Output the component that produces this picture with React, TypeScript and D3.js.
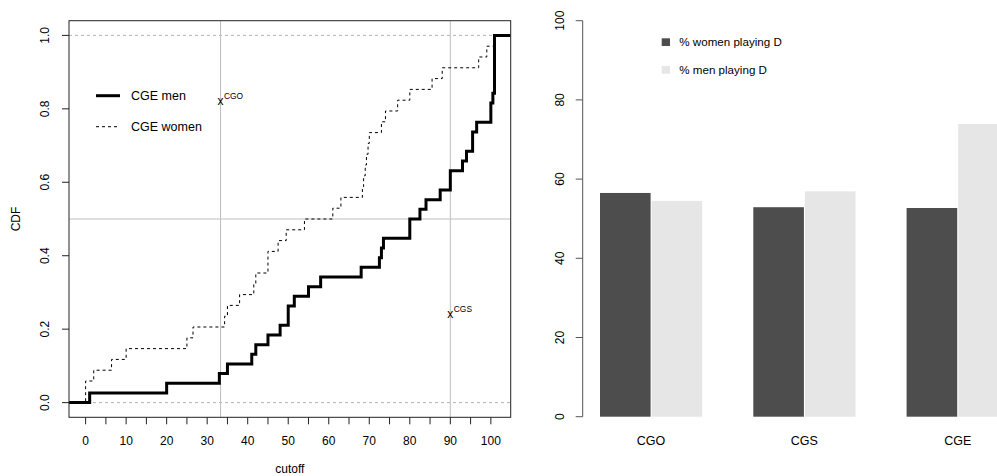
import React from "react";
import * as d3 from "d3";

// ---------- data ----------
// cutoff values (one entry per subject) for the empirical CDFs
const menCutoffs = [1, 20, 33, 35, 41, 42, 45, 48, 50, 50, 51.5, 55, 58, 68, 72.5, 73, 73.5, 80, 80, 82.5, 84, 87.5, 90, 90, 93, 94, 95.5, 95.5, 96.5, 100, 100, 100.5, 100.9, 100.9, 100.9, 100.9, 100.9, 100.9];
const womenCutoffs = [0, 0, 2, 6.4, 10, 25, 26.5, 34.3, 35, 38, 41.5, 42, 45, 45, 47.5, 49.5, 54, 61, 63, 68.3, 68.6, 69, 69.3, 69.7, 70, 73, 74, 77, 80, 85.5, 88, 97, 99, 100.9];
const cdfLegend = ["CGE men", "CGE women"];
const refVLines = [33.3, 90];
const refHLine = 0.5;
const markerLabels = ["CGO", "CGS"];
const markerX = [33.3, 90];
const markerY = [0.82, 0.24];
const xTicks = d3.range(0, 101, 5);
const xTickLabels = d3.range(0, 101, 10);
const yTicksL = [0, 0.2, 0.4, 0.6, 0.8, 1.0];

const barCategories = ["CGO", "CGS", "CGE"];
const womenPlayingD = [56.5, 52.9, 52.7];
const menPlayingD = [54.5, 56.9, 73.9];
const barSeries = ["% women playing D", "% men playing D"];
const yTicksR = [0, 20, 40, 60, 80, 100];

const FONT = "'Liberation Sans', Arial, Helvetica, sans-serif";

function ecdfPoints(vals: number[], xmin: number, xmax: number): [number, number][] {
  const sorted = [...vals].sort((a, b) => a - b);
  const n = sorted.length;
  const pts: [number, number][] = [[xmin, 0]];
  const uniq = Array.from(new Set(sorted));
  uniq.forEach((v) => {
    const cnt = sorted.filter((s) => s <= v).length;
    pts.push([v, cnt / n]);
  });
  pts.push([xmax, 1]);
  return pts;
}

export default function App() {
  // ---------- left panel ----------
  const L = { left: 69, right: 510.7, top: 20.7, bottom: 417.3 };
  const xL = d3.scaleLinear().domain([-4.1, 104.9]).range([L.left, L.right]);
  const yL = d3.scaleLinear().domain([-0.04, 1.04]).range([L.bottom, L.top]);
  const line = d3
    .line<[number, number]>()
    .x((d) => xL(d[0]))
    .y((d) => yL(d[1]))
    .curve(d3.curveStepAfter);
  const menPath = line(ecdfPoints(menCutoffs, -4.1, 104.9)) || "";
  const womenPath = line(ecdfPoints(womenCutoffs, -4.1, 104.9)) || "";

  // ---------- right panel ----------
  const unit = 51.1;
  const zeroU = 548.9;
  const xR = d3
    .scaleBand<string>()
    .domain(barCategories)
    .range([zeroU, zeroU + 10 * unit])
    .paddingInner(1 / 3)
    .paddingOuter(1 / 3);
  const xInner = d3.scaleBand<string>().domain(barSeries).range([0, xR.bandwidth()]);
  const yR = d3.scaleLinear().domain([0, 100]).range([416.7, 20.7]);
  const barColors = ["#4d4d4d", "#e6e6e6"];
  const axR = 582.7;

  return (
    <svg
      width={997}
      height={476}
      style={{ position: "absolute", left: 0, top: 0, background: "#fff" }}
      fontFamily={FONT}
    >
      <rect x={0} y={0} width={997} height={476} fill="#fff" />
      {/* ===== left panel ===== */}
      <defs>
        <clipPath id="clipL">
          <rect x={L.left} y={L.top} width={L.right - L.left} height={L.bottom - L.top} />
        </clipPath>
      </defs>
      <g clipPath="url(#clipL)">
        {[0, 1].map((v) => (
          <line key={"d" + v} x1={L.left} x2={L.right} y1={yL(v)} y2={yL(v)} stroke="#b3b3b3" strokeDasharray="3,3" />
        ))}
        {refVLines.map((v) => (
          <line key={"v" + v} x1={xL(v)} x2={xL(v)} y1={L.top} y2={L.bottom} stroke="#bebebe" />
        ))}
        <line x1={L.left} x2={L.right} y1={yL(refHLine)} y2={yL(refHLine)} stroke="#bebebe" />
        <path d={womenPath} fill="none" stroke="#000" strokeWidth={1} strokeDasharray="3,3" />
        <path d={menPath} fill="none" stroke="#000" strokeWidth={3} />
      </g>
      <rect x={L.left} y={L.top} width={L.right - L.left} height={L.bottom - L.top} fill="none" stroke="#222" />
      {/* x axis */}
      {xTicks.map((t) => (
        <line key={"xt" + t} x1={xL(t)} x2={xL(t)} y1={L.bottom} y2={L.bottom + 7} stroke="#222" />
      ))}
      {xTickLabels.map((t) => (
        <text key={"xl" + t} x={xL(t)} y={445} fontSize={12} textAnchor="middle" fill="#000">
          {t}
        </text>
      ))}
      <text x={(L.left + L.right) / 2} y={473.3} fontSize={12} textAnchor="middle">
        cutoff
      </text>
      {/* y axis */}
      {yTicksL.map((t) => (
        <line key={"yt" + t} x1={L.left - 7} x2={L.left} y1={yL(t)} y2={yL(t)} stroke="#222" />
      ))}
      {yTicksL.map((t) => (
        <text key={"yl" + t} transform={`translate(48.6,${yL(t)}) rotate(-90)`} fontSize={12} textAnchor="middle">
          {t.toFixed(1)}
        </text>
      ))}
      <text transform={`translate(20,${(L.top + L.bottom) / 2}) rotate(-90)`} fontSize={12} textAnchor="middle">
        CDF
      </text>
      {/* markers */}
      {markerLabels.map((lab, i) => (
        <g key={lab}>
          <text x={xL(markerX[i])} y={yL(markerY[i]) + 3.5} fontSize={12} textAnchor="middle">
            x
          </text>
          <text x={xL(markerX[i]) + 3.5} y={yL(markerY[i]) - 2} fontSize={8.4}>
            {lab}
          </text>
        </g>
      ))}
      {/* legend */}
      <line x1={96} x2={120} y1={95.7} y2={95.7} stroke="#000" strokeWidth={3} />
      <line x1={96} x2={120} y1={126.7} y2={126.7} stroke="#000" strokeWidth={1} strokeDasharray="3,3" />
      <text x={131} y={100} fontSize={12.5}>
        {cdfLegend[0]}
      </text>
      <text x={131} y={131.2} fontSize={12.5}>
        {cdfLegend[1]}
      </text>

      {/* ===== right panel ===== */}
      {barCategories.map((c, i) => (
        <g key={c}>
          {[womenPlayingD[i], menPlayingD[i]].map((v, j) => (
            <rect
              key={j}
              x={(xR(c) as number) + (xInner(barSeries[j]) as number) + (j === 1 ? 0.5 : 0)}
              y={yR(v)}
              width={xInner.bandwidth() - 0.5}
              height={yR(0) - yR(v)}
              fill={barColors[j]}
            />
          ))}
          <text x={(xR(c) as number) + xR.bandwidth() / 2} y={445} fontSize={12.5} textAnchor="middle">
            {c}
          </text>
        </g>
      ))}
      <line x1={axR} x2={axR} y1={yR(0)} y2={yR(100)} stroke="#555" />
      {yTicksR.map((t) => (
        <g key={"r" + t}>
          <line x1={axR - 7} x2={axR} y1={yR(t)} y2={yR(t)} stroke="#555" />
          <text transform={`translate(564.3,${yR(t)}) rotate(-90)`} fontSize={12} textAnchor="middle">
            {t}
          </text>
        </g>
      ))}
      {/* legend */}
      {barSeries.map((s, j) => (
        <g key={s}>
          <rect x={661.7} y={38.3 + j * 27.7} width={8.3} height={7.7} fill={barColors[j]} />
          <text x={679.3} y={46.3 + j * 27.7} fontSize={11.6}>
            {s}
          </text>
        </g>
      ))}
    </svg>
  );
}
